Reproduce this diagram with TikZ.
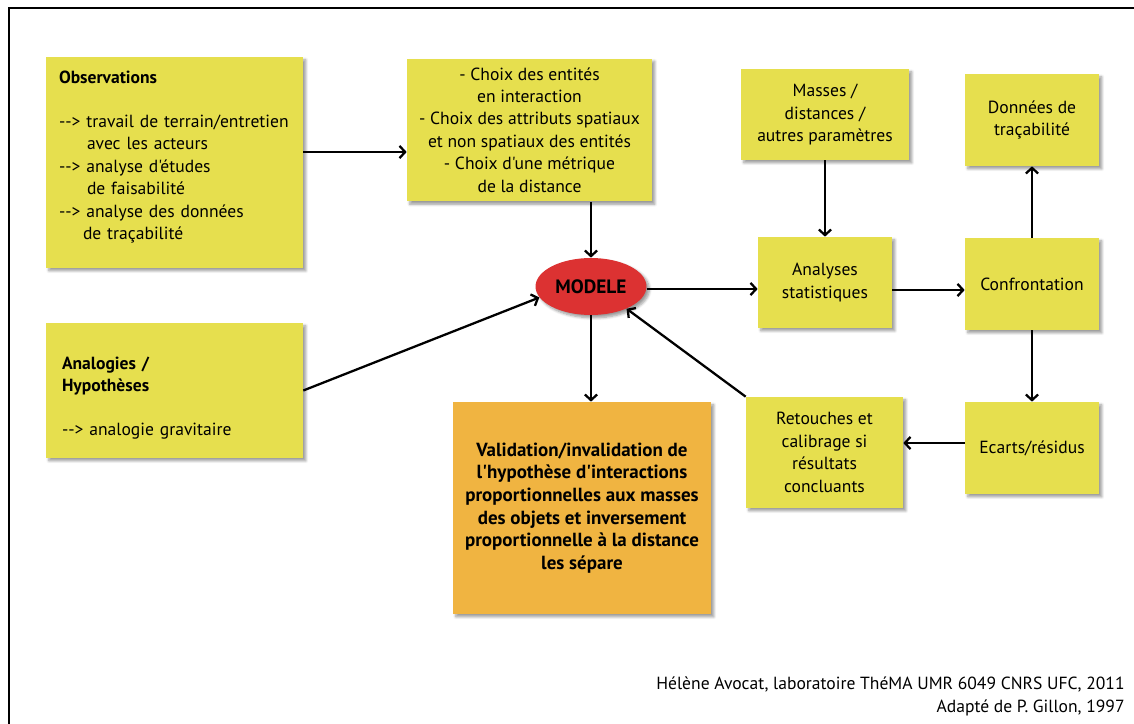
\documentclass[tikz,border=0pt]{standalone}
\usepackage{fontspec}
\setmainfont{PT Sans}[Ligatures=TeXOff]
\usetikzlibrary{arrows.meta, positioning, shapes.geometric, shadows.blur}
\definecolor{noteyellow}{HTML}{E6DF4E}
\definecolor{noteorange}{HTML}{F0B441}
\definecolor{modelred}{HTML}{DC3232}
\newcommand{\dasharr}{-->\ }

\begin{document}
\begin{tikzpicture}[x=0.02cm, y=-0.02cm,
    postit/.style={fill=#1, inner sep=5pt, align=center, font=\fontsize{10}{12.8}\selectfont,
      blur shadow={shadow xshift=1.6pt, shadow yshift=-1.6pt, shadow blur steps=6, shadow blur radius=1.5pt}},
    postit/.default=noteyellow,
    heavy/.style={font=\fontsize{10.8}{12.9}\selectfont\bfseries},
    flow/.style={-{Straight Barb[length=3.2pt, width=7pt]}, line width=1.3pt},
  ]
  \useasboundingbox (0,0) rectangle (1134,724);
  % cadre
  \draw[line width=1.7pt] (9,730) -- (9,8) -- (1140,8);

  % colonne de gauche
  \node[postit, align=left, minimum width=5.14cm, minimum height=4.22cm, text width=4.62cm, inner xsep=0.26cm] (obs) at (174.5,162.5) {
      \textbf{Observations}\\[12.5pt]
      \dasharr travail de terrain/entretien\\
      \hspace*{0.56cm}avec les acteurs\\
      \dasharr analyse d'études\\
      \hspace*{0.56cm}de faisabilité\\
      \dasharr analyse des données\\
      \hspace*{0.48cm}de traçabilité\\[-4.5pt]
      \mbox{}
  };
  \node[postit, align=left, minimum width=5.14cm, minimum height=2.7cm, text width=4.5cm, inner xsep=0.32cm] (ana) at (174.5,390.5) {
      \mbox{}\\[3pt]
      \textbf{Analogies /}\\
      \textbf{Hypothèses}\\[12.5pt]
      \dasharr analogie gravitaire
  };

  % centre
  \node[postit, minimum width=4.9cm, minimum height=2.84cm] (choix) at (529.5,130) {
      - Choix des entités\\
      en interaction\\
      - Choix des attributs spatiaux\\
      et non spatiaux des entités\\
      - Choix d'une métrique\\
      de la distance
  };
  \node[postit=modelred, ellipse, minimum width=2.22cm, minimum height=1.14cm, inner sep=0pt, font=\fontsize{11}{13}\selectfont\bfseries] (modele) at (591,286.5) {MODELE};
  \node[postit=noteorange, heavy, minimum width=5.16cm, minimum height=4.24cm] (valid) at (582,508) {
      Validation/invalidation de\\
      l'hypothèse d'interactions\\
      proportionnelles aux masses\\
      des objets et inversement\\
      proportionnelle à la distance\\
      les sépare
  };

  % partie droite
  \node[postit, minimum width=3.36cm, minimum height=1.82cm] (masses) at (825,114.5) {Masses /\\ distances /\\ autres paramètres};
  \node[postit, minimum width=2.68cm, minimum height=1.82cm] (stat) at (825,282.5) {Analyses\\ statistiques};
  \node[postit, minimum width=2.68cm, minimum height=1.84cm] (trace) at (1032,120) {Données de\\ traçabilité};
  \node[postit, minimum width=2.68cm, minimum height=1.84cm] (confr) at (1032,284) {Confrontation};
  \node[postit, minimum width=2.68cm, minimum height=1.84cm] (ecarts) at (1032,448) {Ecarts/résidus};
  \node[postit, minimum width=3.14cm, minimum height=2.22cm] (retouch) at (824.5,452.5) {Retouches et\\ calibrage si\\ résultats\\ concluants};

  % liaisons
  \draw[flow] (obs.east |- 0,152) -- (choix.west |- 0,152);
  \draw[flow] (choix.south -| modele.north) -- (modele.north);
  \draw[flow] (ana.east) -- (modele.192);
  \draw[flow] (modele.east |- 0,289) -- (stat.west |- 0,289);
  \draw[flow] (modele.south) -- (valid.north -| modele.south);
  \draw[flow] (masses.south) -- (stat.north);
  \draw[flow] (stat.east |- 0,290) -- (confr.west |- 0,290);
  \draw[flow] (confr.north) -- (trace.south);
  \draw[flow] (confr.south) -- (ecarts.north);
  \draw[flow] (ecarts.west |- 0,443) -- (retouch.east |- 0,443);
  \draw[flow] (retouch.north west) -- (modele.-32);

  \node[anchor=east, align=right, inner sep=0pt, font=\fontsize{10}{12.8}\selectfont] (credit) at (1125,696.5) {
      Hélène Avocat, laboratoire ThéMA UMR 6049 CNRS UFC, 2011\\
      Adapté de P. Gillon, 1997
  };
\end{tikzpicture}
\end{document}
